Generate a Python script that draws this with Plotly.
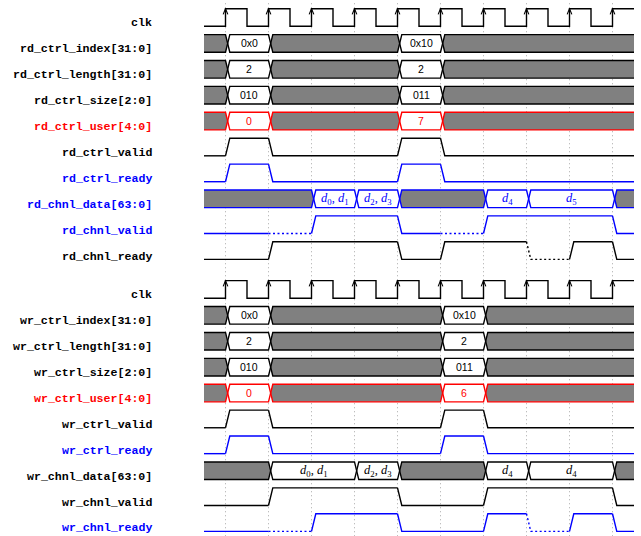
import plotly.graph_objects as go

# ---------------- data ----------------
N_CYCLES = 10

rd_labels = ["clk", "rd_ctrl_index[31:0]", "rd_ctrl_length[31:0]", "rd_ctrl_size[2:0]",
             "rd_ctrl_user[4:0]", "rd_ctrl_valid", "rd_ctrl_ready", "rd_chnl_data[63:0]",
             "rd_chnl_valid", "rd_chnl_ready"]
wr_labels = ["clk", "wr_ctrl_index[31:0]", "wr_ctrl_length[31:0]", "wr_ctrl_size[2:0]",
             "wr_ctrl_user[4:0]", "wr_ctrl_valid", "wr_ctrl_ready", "wr_chnl_data[63:0]",
             "wr_chnl_valid", "wr_chnl_ready"]

# read channel
rd_ctrl_times = [0, 0.5, 1.5, 4.5, 5.5]
rd_index_vals = [None, "0x0", None, "0x10", None]
rd_length_vals = [None, "2", None, "2", None]
rd_size_vals = [None, "010", None, "011", None]
rd_user_vals = [None, "0", None, "7", None]
rd_ctrl_levels = [0, 1, 0, 1, 0]
rd_data_times = [0, 2.5, 3.5, 4.5, 6.5, 7.5, 9.5]
rd_data_vals = [None, "d0,d1", "d2,d3", None, "d4", "d5", None]
rd_chnl_valid_times = [0, 1.5, 2.5, 4.5, 5.5, 6.5, 9.5]
rd_chnl_valid_levels = [0, 0, 1, 0, 0, 1, 0]
rd_chnl_valid_unknown = [0, 1, 0, 0, 1, 0, 0]
rd_chnl_ready_times = [0, 1.5, 4.5, 5.5, 7.5, 8.5, 9.5]
rd_chnl_ready_levels = [0, 1, 0, 1, 0, 1, 0]
rd_chnl_ready_unknown = [0, 0, 0, 0, 1, 0, 0]

# write channel
wr_ctrl_times = [0, 0.5, 1.5, 5.5, 6.5]
wr_index_vals = [None, "0x0", None, "0x10", None]
wr_length_vals = [None, "2", None, "2", None]
wr_size_vals = [None, "010", None, "011", None]
wr_user_vals = [None, "0", None, "6", None]
wr_ctrl_levels = [0, 1, 0, 1, 0]
wr_data_times = [0, 1.5, 3.5, 4.5, 6.5, 7.5, 9.5]
wr_data_vals = [None, "d0,d1", "d2,d3", None, "d4", "d4", None]
wr_chnl_valid_times = [0, 1.5, 4.5, 6.5, 9.5]
wr_chnl_valid_levels = [0, 1, 0, 1, 0]
wr_chnl_valid_unknown = [0, 0, 0, 0, 0]
wr_chnl_ready_times = [0, 1.5, 2.5, 4.5, 6.5, 7.5, 8.5, 9.5]
wr_chnl_ready_levels = [0, 0, 1, 0, 1, 0, 1, 0]
wr_chnl_ready_unknown = [0, 1, 0, 0, 0, 1, 0, 0]

# ---------------- style ----------------
SLOPE = 0.1
H = 0.34
LW = 1.4
BLACK, RED, BLUE = "#000000", "#ff0000", "#0000ff"
GRAY_FILL = "#808080"
LOWER_OFFSET = 10.5

fig = go.Figure()
annotations = []


def add_line(xs, ys, color, dash="solid", width=LW):
    fig.add_trace(go.Scatter(x=xs, y=ys, mode="lines", hoverinfo="skip", showlegend=False,
                             line=dict(color=color, width=width, dash=dash)))


def fmt_data(v):
    if v.startswith("d"):
        parts = [p.strip() for p in v.split(",")]
        return ", ".join("<i>d</i><sub>%s</sub>" % p[1:] for p in parts)
    return v


def clock(r):
    top, bot = r - H, r + H
    xs, ys = [0], [bot]
    for k in range(N_CYCLES):
        e = k + 0.5
        xs += [e, e, min(k + 1, N_CYCLES)]
        ys += [bot, top, top]
        if k + 1 < N_CYCLES:
            xs += [k + 1]
            ys += [bot]
    add_line(xs, ys, BLACK)
    ax, ay = [], []
    for k in range(N_CYCLES):
        e = k + 0.5
        ax += [e - 0.055, e, e + 0.055, None]
        ay += [top + 0.22, top, top + 0.22, None]
    add_line(ax, ay, BLACK, width=1.1)


def bus(times, vals, r, color):
    top, bot = r - H, r + H
    ends = times[1:] + [N_CYCLES]
    for fill, want in ((GRAY_FILL, False), ("#ffffff", True)):
        xs, ys = [], []
        for i, (t0, t1, v) in enumerate(zip(times, ends, vals)):
            if (v is not None) != want:
                continue
            px, py = [], []
            if i > 0:
                px += [t0 + SLOPE / 2, t0 + SLOPE]
                py += [r, top]
            else:
                px += [t0]
                py += [top]
            if t1 < N_CYCLES:
                px += [t1, t1 + SLOPE / 2, t1]
                py += [top, r, bot]
            else:
                px += [t1, t1]
                py += [top, bot]
            if i > 0:
                px += [t0 + SLOPE, t0 + SLOPE / 2]
                py += [bot, r]
            else:
                px += [t0, t0]
                py += [bot, top]
            xs += px + [None]
            ys += py + [None]
        if xs:
            fig.add_trace(go.Scatter(x=xs, y=ys, mode="lines", fill="toself", fillcolor=fill,
                                     line=dict(width=0, color=fill), hoverinfo="skip",
                                     showlegend=False))
    for start in (top, bot):
        xs, ys = [0], [start]
        cur = start
        for T in times[1:]:
            other = bot if cur == top else top
            xs += [T, T + SLOPE]
            ys += [cur, other]
            cur = other
        xs.append(N_CYCLES)
        ys.append(cur)
        add_line(xs, ys, color)
    for t0, t1, v in zip(times, ends, vals):
        if v is None:
            continue
        is_data = v.startswith("d")
        annotations.append(dict(
            x=(t0 + t1) / 2 + SLOPE / 2, y=r, xref="x", yref="y", text=fmt_data(v),
            showarrow=False, xanchor="center", yanchor="middle",
            font=dict(family="Liberation Serif" if is_data else "Liberation Sans",
                      size=12.5 if is_data else 10.5, color=color)))


def level(times, levels, unknown, r, color):
    top, bot = r - H, r + H
    lv = lambda l: top if l else bot
    ends = times[1:] + [N_CYCLES]
    solid_x, solid_y, dot_x, dot_y = [], [], [], []
    prev = levels[0]
    for i, (t0, t1, l) in enumerate(zip(times, ends, levels)):
        if i > 0 and l != prev:
            px, py = [t0, t0 + SLOPE, t1], [lv(prev), lv(l), lv(l)]
        else:
            px, py = [t0, t1], [lv(l), lv(l)]
        if unknown[i]:
            dot_x += px + [None]
            dot_y += py + [None]
        else:
            solid_x += px + [None]
            solid_y += py + [None]
        prev = l
    add_line(solid_x, solid_y, color)
    if dot_x:
        add_line(dot_x, dot_y, color, dash="2px,2.5px")


# vertical dotted grid at each rising clock edge
gx, gy = [], []
for k in range(N_CYCLES):
    gx += [k + 0.5, k + 0.5, None]
    gy += [-0.55, 20.1, None]
add_line(gx, gy, "#a8a8a8", dash="1px,3px", width=1)


def group(offset, labels, label_colors, ctrl_times, idx, length, size, user, user_color,
          ctrl_levels, data_times, data_vals, data_color,
          cv_t, cv_l, cv_u, cv_color, cr_t, cr_l, cr_u, cr_color, ready_color):
    clock(offset + 0)
    bus(ctrl_times, idx, offset + 1, BLACK)
    bus(ctrl_times, length, offset + 2, BLACK)
    bus(ctrl_times, size, offset + 3, BLACK)
    bus(ctrl_times, user, offset + 4, user_color)
    level(ctrl_times, ctrl_levels, [0] * len(ctrl_levels), offset + 5, BLACK)
    level(ctrl_times, ctrl_levels, [0] * len(ctrl_levels), offset + 6, ready_color)
    bus(data_times, data_vals, offset + 7, data_color)
    level(cv_t, cv_l, cv_u, offset + 8, cv_color)
    level(cr_t, cr_l, cr_u, offset + 9, cr_color)
    for i, (lab, c) in enumerate(zip(labels, label_colors)):
        annotations.append(dict(
            x=-1.17, y=offset + i + 0.21, xref="x", yref="y", text="<b>%s</b>" % lab,
            showarrow=False, xanchor="right", yanchor="middle",
            font=dict(family="Liberation Mono", size=11.6, color=c)))


group(0, rd_labels, [BLACK] * 4 + [RED, BLACK, BLUE, BLUE, BLUE, BLACK],
      rd_ctrl_times, rd_index_vals, rd_length_vals, rd_size_vals, rd_user_vals, RED,
      rd_ctrl_levels, rd_data_times, rd_data_vals, BLUE,
      rd_chnl_valid_times, rd_chnl_valid_levels, rd_chnl_valid_unknown, BLUE,
      rd_chnl_ready_times, rd_chnl_ready_levels, rd_chnl_ready_unknown, BLACK, BLUE)

group(LOWER_OFFSET, wr_labels, [BLACK] * 4 + [RED, BLACK, BLUE, BLACK, BLACK, BLUE],
      wr_ctrl_times, wr_index_vals, wr_length_vals, wr_size_vals, wr_user_vals, RED,
      wr_ctrl_levels, wr_data_times, wr_data_vals, BLACK,
      wr_chnl_valid_times, wr_chnl_valid_levels, wr_chnl_valid_unknown, BLACK,
      wr_chnl_ready_times, wr_chnl_ready_levels, wr_chnl_ready_unknown, BLUE, BLUE)

fig.update_layout(
    width=641, height=536,
    margin=dict(l=0, r=0, t=0, b=0, pad=0),
    paper_bgcolor="white", plot_bgcolor="white",
    xaxis=dict(range=[-204 / 43, (641 - 204) / 43], visible=False, fixedrange=True),
    yaxis=dict(range=[(536 - 17.5) / 25.9, -17.5 / 25.9], visible=False, fixedrange=True),
    annotations=annotations,
    showlegend=False,
)

fig.write_html("out.html", config={"displayModeBar": False},
               post_script="document.body.style.margin='0px';document.body.style.overflow='hidden';")
